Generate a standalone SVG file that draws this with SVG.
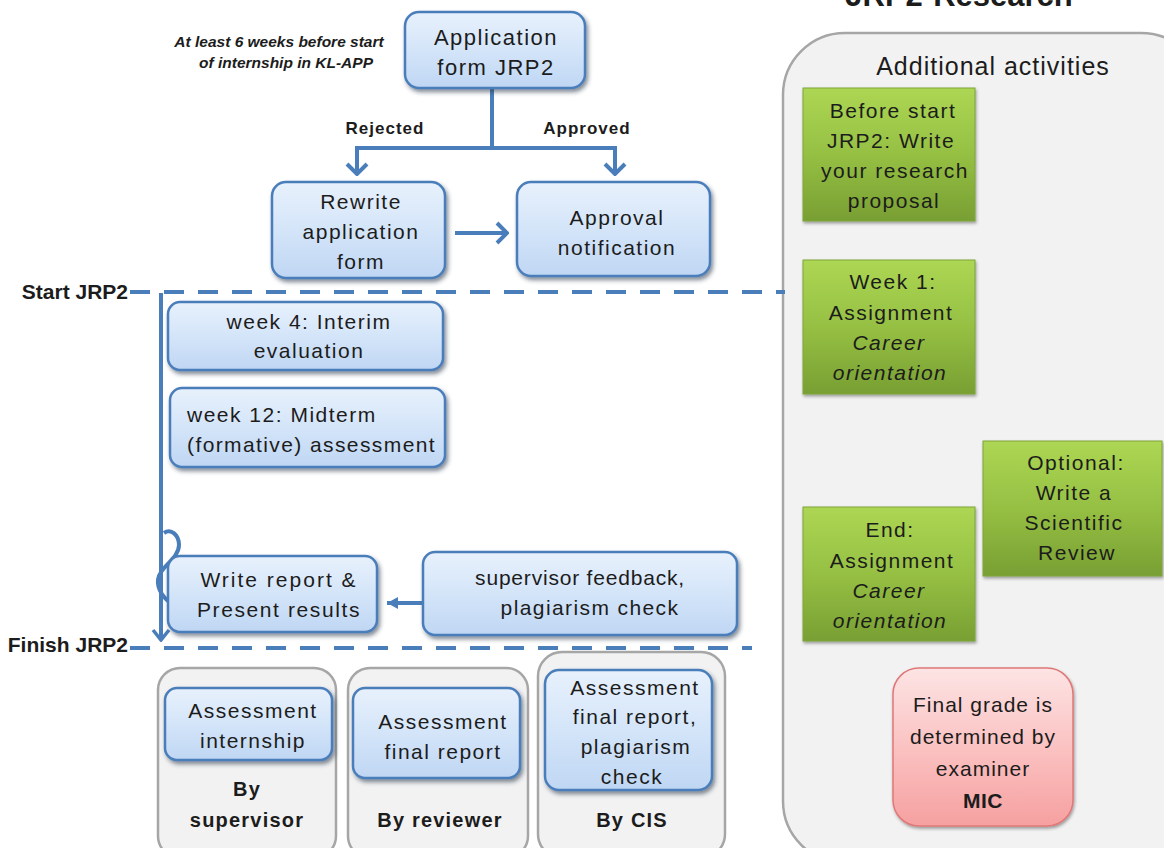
<svg xmlns="http://www.w3.org/2000/svg" width="1164" height="848" viewBox="0 0 1164 848">
  <defs>
    <linearGradient id="gBlue" x1="0" y1="0" x2="0" y2="1">
      <stop offset="0" stop-color="#e8f1fc"/>
      <stop offset="0.5" stop-color="#d4e5f9"/>
      <stop offset="1" stop-color="#bfd6f3"/>
    </linearGradient>
    <linearGradient id="gGreen" x1="0" y1="0" x2="0" y2="1">
      <stop offset="0" stop-color="#acd653"/>
      <stop offset="0.5" stop-color="#96c043"/>
      <stop offset="1" stop-color="#789f33"/>
    </linearGradient>
    <linearGradient id="gRed" x1="0" y1="0" x2="0" y2="1">
      <stop offset="0" stop-color="#fde4e4"/>
      <stop offset="0.5" stop-color="#fbc2c2"/>
      <stop offset="1" stop-color="#f6a0a0"/>
    </linearGradient>
    <filter id="shadow" x="-10%" y="-10%" width="130%" height="140%">
      <feDropShadow dx="2" dy="3" stdDeviation="2" flood-color="#1f2f45" flood-opacity="0.55"/>
    </filter>
    <filter id="shadowSoft" x="-10%" y="-10%" width="130%" height="130%">
      <feDropShadow dx="1" dy="2" stdDeviation="1.5" flood-color="#333" flood-opacity="0.45"/>
    </filter>
    <marker id="chev" markerUnits="userSpaceOnUse" viewBox="-14 -12 16 24" markerWidth="16" markerHeight="24" refX="0" refY="0" orient="auto">
      <path d="M-10,-10 L0,0 L-10,10" fill="none" stroke="#4a7ebb" stroke-width="4" stroke-linejoin="miter"/>
    </marker>
    <marker id="chevThin" markerUnits="userSpaceOnUse" viewBox="-14 -12 16 24" markerWidth="16" markerHeight="24" refX="0" refY="0" orient="auto">
      <path d="M-10,-8 L0,0 L-10,8" fill="none" stroke="#4a7ebb" stroke-width="3.5"/>
    </marker>
    <marker id="tri" markerUnits="userSpaceOnUse" viewBox="-12 -8 14 16" markerWidth="14" markerHeight="16" refX="0" refY="0" orient="auto">
      <path d="M-11,-6 L0,0 L-11,6 Z" fill="#4a7ebb"/>
    </marker>
  </defs>
  <style>
    .blue { fill: url(#gBlue); stroke: #4a7ebb; stroke-width: 2.5; filter: url(#shadow); }
    .green { fill: url(#gGreen); stroke: #7fa63a; stroke-width: 1; filter: url(#shadowSoft); }
    .red { fill: url(#gRed); stroke: #e07878; stroke-width: 1.5; filter: url(#shadowSoft); }
    .grey { fill: #f2f2f2; stroke: #a6a6a6; stroke-width: 2.5; }
    text { font-family: "Liberation Sans", Arial, sans-serif; fill: #1c1c1c; }
    .t { font-size: 21px; letter-spacing: 1.5px; text-anchor: middle; }
    .b { font-weight: bold; }
    .i { font-style: italic; }
    .lbl { font-size: 17px; font-weight: bold; letter-spacing: 1px; text-anchor: middle; }
    .mark { font-size: 21px; font-weight: bold; text-anchor: end; }
    .by { font-size: 20px; font-weight: bold; letter-spacing: 1.2px; text-anchor: middle; }
    .line { fill: none; stroke: #4a7ebb; stroke-width: 4; }
    .dash { fill: none; stroke: #4a7ebb; stroke-width: 4; stroke-dasharray: 20 14; }
  </style>

  <!-- right-hand panel -->
  <g id="panel-research">
    <text x="959" y="6" style="font-size:31px;font-weight:bold;text-anchor:middle">JRP2-Research</text>
    <rect class="grey" x="783" y="33" width="420" height="830" rx="62"/>
    <text x="993" y="75" style="font-size:25px;letter-spacing:1px;text-anchor:middle">Additional activities</text>
  </g>

  <!-- assessor groups at the bottom -->
  <g id="group-supervisor">
    <rect class="grey" x="158" y="668" width="178" height="190" rx="22"/>
    <text class="by" x="247" y="796">By</text>
    <text class="by" x="247" y="827">supervisor</text>
  </g>
  <g id="group-reviewer">
    <rect class="grey" x="348" y="668" width="180" height="190" rx="22"/>
    <text class="by" x="440" y="827">By reviewer</text>
  </g>
  <g id="group-cis">
    <rect class="grey" x="538" y="652" width="187" height="206" rx="24"/>
    <text class="by" x="632" y="827">By CIS</text>
  </g>

  <!-- connectors -->
  <g id="connectors">
    <path class="line" d="M492,88 V148"/>
    <path class="line" d="M357,148 H615"/>
    <path class="line" d="M357,146 V174" marker-end="url(#chev)"/>
    <path class="line" d="M615,146 V174" marker-end="url(#chev)"/>
    <path class="line" d="M455,233 H507" marker-end="url(#chev)"/>
    <path class="line" d="M423,603 H387" stroke-width="3.5" marker-end="url(#tri)"/>
    <path class="dash" d="M130,292 H785"/>
    <path class="dash" d="M130,648 H752"/>
    <path class="line" d="M161,293 V640" stroke-width="3.5" marker-end="url(#chevThin)"/>
    <path class="line" d="M164,533 C171,528 179,535 179,545 C179,556 166,564 161,572 C155,581 158,592 168,601" stroke-width="3"/>
  </g>

  <g id="note">
    <text x="279" y="47" style="font-size:15.5px;font-weight:bold;font-style:italic;text-anchor:middle">At least 6 weeks before start</text>
    <text x="286" y="68" style="font-size:15.5px;font-weight:bold;font-style:italic;text-anchor:middle">of internship in KL-APP</text>
  </g>
  <g id="labels">
    <text class="lbl" x="385" y="134">Rejected</text>
    <text class="lbl" x="587" y="134">Approved</text>
    <text class="mark" x="128" y="299">Start JRP2</text>
    <text class="mark" x="128" y="652">Finish JRP2</text>
  </g>

  <g id="application-form">
    <rect class="blue" x="405" y="12" width="180" height="76" rx="14"/>
    <text class="t" x="496" y="45" style="font-size:22px">Application</text>
    <text class="t" x="496" y="75" style="font-size:22px">form JRP2</text>
  </g>
  <g id="rewrite-form">
    <rect class="blue" x="272" y="182" width="173" height="96" rx="14"/>
    <text class="t" x="361" y="209">Rewrite</text>
    <text class="t" x="361" y="239">application</text>
    <text class="t" x="361" y="269">form</text>
  </g>
  <g id="approval-notification">
    <rect class="blue" x="517" y="182" width="193" height="94" rx="14"/>
    <text class="t" x="617" y="225">Approval</text>
    <text class="t" x="617" y="255">notification</text>
  </g>
  <g id="week4">
    <rect class="blue" x="168" y="302" width="275" height="68" rx="12"/>
    <text class="t" x="309" y="329">week 4: Interim</text>
    <text class="t" x="309" y="358">evaluation</text>
  </g>
  <g id="week12">
    <rect class="blue" x="170" y="388" width="275" height="79" rx="12"/>
    <text class="t" x="187" y="422" style="text-anchor:start">week 12: Midterm</text>
    <text class="t" x="187" y="452" style="text-anchor:start;letter-spacing:1.4px">(formative) assessment</text>
  </g>
  <g id="write-report">
    <rect class="blue" x="168" y="556" width="209" height="76" rx="12"/>
    <text class="t" x="279" y="587" style="letter-spacing:2px">Write report &amp;</text>
    <text class="t" x="279" y="617" style="letter-spacing:1.6px">Present results</text>
  </g>
  <g id="supervisor-feedback">
    <rect class="blue" x="423" y="552" width="314" height="83" rx="12"/>
    <text class="t" x="580" y="585" style="letter-spacing:0.8px">supervisor feedback,</text>
    <text class="t" x="590" y="615" style="letter-spacing:1.4px">plagiarism check</text>
  </g>
  <g id="assessment-internship">
    <rect class="blue" x="165" y="688" width="167" height="72" rx="12"/>
    <text class="t" x="253" y="718">Assessment</text>
    <text class="t" x="253" y="748">internship</text>
  </g>
  <g id="assessment-final-report">
    <rect class="blue" x="353" y="688" width="167" height="90" rx="12"/>
    <text class="t" x="443" y="729">Assessment</text>
    <text class="t" x="443" y="759">final report</text>
  </g>
  <g id="assessment-cis">
    <rect class="blue" x="545" y="670" width="167" height="120" rx="14"/>
    <text class="t" x="635" y="695">Assessment</text>
    <text class="t" x="635" y="724">final report,</text>
    <text class="t" x="636" y="754">plagiarism</text>
    <text class="t" x="632" y="784">check</text>
  </g>

  <g id="before-start">
    <rect class="green" x="803" y="88" width="172" height="133"/>
    <text class="t" x="893" y="118">Before start</text>
    <text class="t" x="891" y="148">JRP2: Write</text>
    <text class="t" x="895" y="178">your research</text>
    <text class="t" x="894" y="208">proposal</text>
  </g>
  <g id="week1-assignment">
    <rect class="green" x="803" y="260" width="172" height="134"/>
    <text class="t" x="893" y="289">Week 1:</text>
    <text class="t" x="891" y="320">Assignment</text>
    <text class="t i" x="889" y="350">Career</text>
    <text class="t i" x="890" y="380">orientation</text>
  </g>
  <g id="optional-review">
    <rect class="green" x="983" y="441" width="179" height="135"/>
    <text class="t" x="1076" y="470">Optional:</text>
    <text class="t" x="1074" y="500">Write a</text>
    <text class="t" x="1074" y="530">Scientific</text>
    <text class="t" x="1077" y="560">Review</text>
  </g>
  <g id="end-assignment">
    <rect class="green" x="803" y="507" width="172" height="134"/>
    <text class="t" x="890" y="537">End:</text>
    <text class="t" x="892" y="568">Assignment</text>
    <text class="t i" x="889" y="598">Career</text>
    <text class="t i" x="890" y="628">orientation</text>
  </g>
  <g id="final-grade">
    <rect class="red" x="893" y="668" width="180" height="158" rx="26"/>
    <text class="t" x="983" y="712" style="letter-spacing:1px">Final grade is</text>
    <text class="t" x="983" y="744" style="letter-spacing:1px">determined by</text>
    <text class="t" x="983" y="776" style="letter-spacing:1px">examiner</text>
    <text class="t b" x="983" y="808" style="letter-spacing:0.5px">MIC</text>
  </g>
</svg>
